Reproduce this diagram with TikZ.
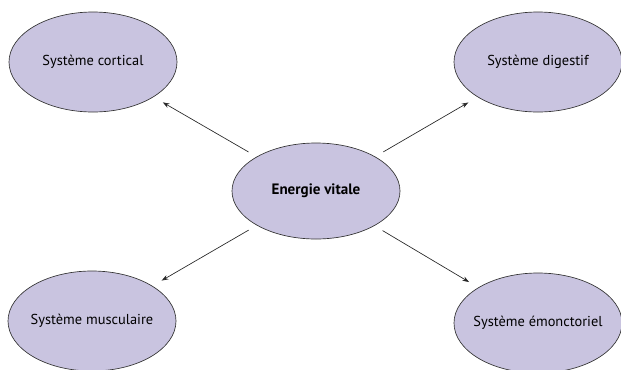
\documentclass[tikz,border=0pt]{standalone}
\usepackage{fontspec}
\setmainfont{PT Sans}
\usetikzlibrary{shapes}
\usetikzlibrary{arrows.meta}
\definecolor{lavande}{RGB}{201,196,224}
\tikzset{
    sysnode/.style = {ellipse, draw=black!80, line width=0.5pt, fill=lavande, minimum width=126pt, minimum height=75pt, inner ysep=0pt, inner xsep=-12pt, font=\fontsize{10.8}{13}\selectfont},
    mainnode/.style = {sysnode, minimum height=72pt, font=\fontsize{11.3}{13}\selectfont\bfseries},
    edgen/.style = {-{Stealth[length=5pt,width=3.5pt]}, line width=0.5pt, black!85, shorten <=7pt, shorten >=8pt},
}
\begin{document}
\begin{tikzpicture}[x=0.75pt,y=-0.75pt]
\useasboundingbox (0,0) rectangle (621,369);
\node[mainnode] at (316, 191) (ev) {Energie vitale};
\node[sysnode] at (93, 62) (cort) {Système cortical};
\node[sysnode] at (538, 62) (dig) {Système digestif};
\node[sysnode] at (92, 321) (musc) {Système musculaire};
\node[sysnode] at (538, 323) (emon) {Système émonctoriel};
%
\draw[edgen] (ev) edge node {} (cort);
\draw[edgen] (ev) edge node {} (dig);
\draw[edgen] (ev) edge node {} (musc);
\draw[edgen] (ev) edge node {} (emon);

\end{tikzpicture}
\end{document}
